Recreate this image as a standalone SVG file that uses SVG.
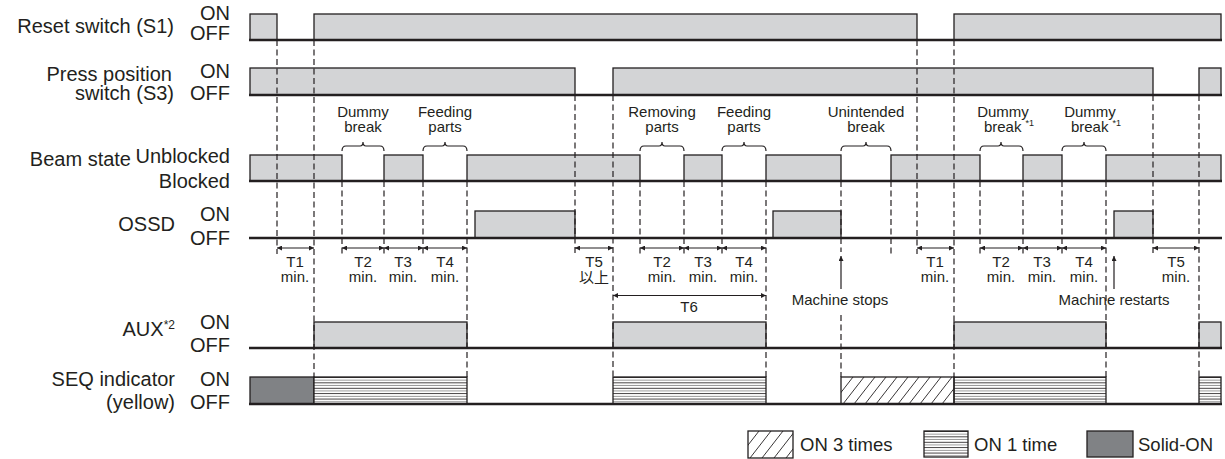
<svg xmlns="http://www.w3.org/2000/svg" width="1225" height="459" viewBox="0 0 1225 459">
<style>
.bg{fill:#fff}
.sig{fill:#d3d4d6;stroke:#231f20;stroke-width:1.3}
.solid{fill:#808285;stroke:#231f20;stroke-width:1.3}
.lin{fill:url(#hl);stroke:#231f20;stroke-width:1.3}
.box{fill:none;stroke:#231f20;stroke-width:1.3}
.base{stroke:#231f20;stroke-width:2.6;fill:none}
.dash{stroke:#231f20;stroke-width:1.2;stroke-dasharray:6 3.5;fill:none}
.dim{stroke:#231f20;stroke-width:1.2;fill:none;marker-start:url(#ah);marker-end:url(#ah)}
.up{stroke:#231f20;stroke-width:1.2;fill:none;marker-end:url(#ah)}
.brace{stroke:#231f20;stroke-width:1.2;fill:none}
.hat{stroke:#231f20;stroke-width:0.9}
text{font-family:"Liberation Sans","Noto Sans CJK JP",Arial,sans-serif;fill:#231f20}
.big{font-size:20px}
.sm{font-size:15px;text-anchor:middle}
.lg{font-size:18.5px}
.r{text-anchor:end}
</style>
<defs>
<marker id="ah" viewBox="0 0 10 10" refX="10" refY="5" markerWidth="6" markerHeight="5" markerUnits="userSpaceOnUse" orient="auto-start-reverse">
<path d="M0,0 L10,5 L0,10 z" fill="#231f20"/>
</marker>
<pattern id="hl" patternUnits="userSpaceOnUse" x="0" y="377" width="20" height="5.4">
<rect width="20" height="5.4" fill="#fff"/>
<line x1="0" y1="0.45" x2="20" y2="0.45" stroke="#231f20" stroke-width="0.9"/>
<line x1="0" y1="3.1" x2="20" y2="3.1" stroke="#666" stroke-width="0.7"/>
</pattern>
<clipPath id="c1"><rect x="841" y="377" width="113" height="27"/></clipPath>
<clipPath id="c2"><rect x="748" y="431" width="45" height="27"/></clipPath>
</defs>
<rect class="bg" width="1225" height="459"/>

<g id="labels">
<text class="big r" x="174" y="33">Reset switch (S1)</text>
<text class="big r" x="230" y="20">ON</text>
<text class="big r" x="230" y="40">OFF</text>
<text class="big r" x="172" y="80.5">Press position</text>
<text class="big r" x="174" y="100">switch (S3)</text>
<text class="big r" x="230" y="78">ON</text>
<text class="big r" x="230" y="100">OFF</text>
<text class="big r" x="131" y="166">Beam state</text>
<text class="big r" x="230" y="163">Unblocked</text>
<text class="big r" x="230" y="188">Blocked</text>
<text class="big r" x="175" y="231">OSSD</text>
<text class="big r" x="230" y="221">ON</text>
<text class="big r" x="230" y="245">OFF</text>
<text class="big r" x="175" y="336">AUX<tspan font-size="12" dy="-7">*2</tspan></text>
<text class="big r" x="230" y="329">ON</text>
<text class="big r" x="230" y="352">OFF</text>
<text class="big r" x="175" y="386">SEQ indicator</text>
<text class="big r" x="175" y="409">(yellow)</text>
<text class="big r" x="230" y="386">ON</text>
<text class="big r" x="230" y="409">OFF</text>
</g>

<g id="reset-switch">
<rect class="sig" x="250" y="14" width="27" height="26"/>
<rect class="sig" x="314" y="14" width="603" height="26"/>
<rect class="sig" x="954" y="14" width="267" height="26"/>
<line class="base" x1="249" y1="40" x2="1222" y2="40"/>
</g>

<g id="press-switch">
<rect class="sig" x="250" y="68" width="325" height="27"/>
<rect class="sig" x="613" y="68" width="540" height="27"/>
<rect class="sig" x="1199" y="68" width="22" height="27"/>
<line class="base" x1="249" y1="95" x2="1222" y2="95"/>
</g>

<g id="beam-state">
<rect class="sig" x="250" y="155" width="92" height="26"/>
<rect class="sig" x="384" y="155" width="39" height="26"/>
<rect class="sig" x="467" y="155" width="173" height="26"/>
<rect class="sig" x="684" y="155" width="38" height="26"/>
<rect class="sig" x="766" y="155" width="75" height="26"/>
<rect class="sig" x="891" y="155" width="89" height="26"/>
<rect class="sig" x="1023" y="155" width="39" height="26"/>
<rect class="sig" x="1106" y="155" width="115" height="26"/>
<line class="base" x1="249" y1="181" x2="1222" y2="181"/>
</g>

<g id="ossd">
<rect class="sig" x="475" y="211" width="100" height="27"/>
<rect class="sig" x="773" y="211" width="68" height="27"/>
<rect class="sig" x="1114" y="211" width="39" height="27"/>
<line class="base" x1="249" y1="238" x2="1222" y2="238"/>
</g>

<g id="aux">
<rect class="sig" x="314" y="322" width="153" height="26"/>
<rect class="sig" x="613" y="322" width="153" height="26"/>
<rect class="sig" x="954" y="322" width="152" height="26"/>
<rect class="sig" x="1199" y="322" width="22" height="26"/>
<line class="base" x1="249" y1="348" x2="1222" y2="348"/>
</g>

<g id="seq-indicator">
<rect class="solid" x="250" y="377" width="64" height="27"/>
<rect class="lin" x="314" y="377" width="153" height="27"/>
<rect class="lin" x="613" y="377" width="153" height="27"/>
<rect class="lin" x="954" y="377" width="152" height="27"/>
<rect class="lin" x="1199" y="377" width="22" height="27"/>
<g clip-path="url(#c1)">
<line class="hat" x1="832" y1="404" x2="853" y2="377"/>
<line class="hat" x1="843" y1="404" x2="864" y2="377"/>
<line class="hat" x1="854" y1="404" x2="875" y2="377"/>
<line class="hat" x1="865" y1="404" x2="886" y2="377"/>
<line class="hat" x1="876" y1="404" x2="897" y2="377"/>
<line class="hat" x1="887" y1="404" x2="908" y2="377"/>
<line class="hat" x1="898" y1="404" x2="919" y2="377"/>
<line class="hat" x1="909" y1="404" x2="930" y2="377"/>
<line class="hat" x1="920" y1="404" x2="941" y2="377"/>
<line class="hat" x1="931" y1="404" x2="952" y2="377"/>
<line class="hat" x1="942" y1="404" x2="963" y2="377"/>
</g>
<rect class="box" x="841" y="377" width="113" height="27"/>
<line class="base" x1="249" y1="404" x2="1222" y2="404"/>
</g>

<g id="connectors">
<line class="dash" x1="277" y1="40" x2="277" y2="254"/>
<line class="dash" x1="314" y1="40" x2="314" y2="377"/>
<line class="dash" x1="342" y1="181" x2="342" y2="254"/>
<line class="dash" x1="384" y1="181" x2="384" y2="254"/>
<line class="dash" x1="423" y1="181" x2="423" y2="254"/>
<line class="dash" x1="467" y1="181" x2="467" y2="377"/>
<line class="dash" x1="575" y1="95" x2="575" y2="254"/>
<line class="dash" x1="613" y1="95" x2="613" y2="377"/>
<line class="dash" x1="640" y1="181" x2="640" y2="254"/>
<line class="dash" x1="684" y1="181" x2="684" y2="254"/>
<line class="dash" x1="722" y1="181" x2="722" y2="254"/>
<line class="dash" x1="766" y1="181" x2="766" y2="377"/>
<line class="dash" x1="841" y1="181" x2="841" y2="252"/>
<line class="dash" x1="841" y1="315" x2="841" y2="377"/>
<line class="dash" x1="891" y1="181" x2="891" y2="254"/>
<line class="dash" x1="917" y1="40" x2="917" y2="254"/>
<line class="dash" x1="954" y1="40" x2="954" y2="377"/>
<line class="dash" x1="980" y1="181" x2="980" y2="254"/>
<line class="dash" x1="1023" y1="181" x2="1023" y2="254"/>
<line class="dash" x1="1062" y1="181" x2="1062" y2="254"/>
<line class="dash" x1="1106" y1="181" x2="1106" y2="377"/>
<line class="dash" x1="1153" y1="95" x2="1153" y2="254"/>
<line class="dash" x1="1199" y1="95" x2="1199" y2="377"/>

<path class="brace" d="M342,151 Q342,146 346,146 L360,146 Q363,146 363,142 Q363,146 366,146 L380,146 Q384,146 384,151"/>
<path class="brace" d="M423,151 Q423,146 427,146 L442,146 Q445,146 445,142 Q445,146 448,146 L463,146 Q467,146 467,151"/>
<path class="brace" d="M640,151 Q640,146 644,146 L659,146 Q662,146 662,142 Q662,146 665,146 L680,146 Q684,146 684,151"/>
<path class="brace" d="M722,151 Q722,146 726,146 L741,146 Q744,146 744,142 Q744,146 747,146 L762,146 Q766,146 766,151"/>
<path class="brace" d="M841,151 Q841,146 845,146 L863,146 Q866,146 866,142 Q866,146 869,146 L887,146 Q891,146 891,151"/>
<path class="brace" d="M980,151 Q980,146 984,146 L998,146 Q1001,146 1001,142 Q1001,146 1004,146 L1019,146 Q1023,146 1023,151"/>
<path class="brace" d="M1062,151 Q1062,146 1066,146 L1081,146 Q1084,146 1084,142 Q1084,146 1087,146 L1102,146 Q1106,146 1106,151"/>

<line class="dim" x1="277" y1="248" x2="314" y2="248"/>
<line class="dim" x1="342" y1="248" x2="384" y2="248"/>
<line class="dim" x1="384" y1="248" x2="423" y2="248"/>
<line class="dim" x1="423" y1="248" x2="467" y2="248"/>
<line class="dim" x1="575" y1="248" x2="613" y2="248"/>
<line class="dim" x1="640" y1="248" x2="684" y2="248"/>
<line class="dim" x1="684" y1="248" x2="722" y2="248"/>
<line class="dim" x1="722" y1="248" x2="766" y2="248"/>
<line class="dim" x1="917" y1="248" x2="954" y2="248"/>
<line class="dim" x1="980" y1="248" x2="1023" y2="248"/>
<line class="dim" x1="1023" y1="248" x2="1062" y2="248"/>
<line class="dim" x1="1062" y1="248" x2="1106" y2="248"/>
<line class="dim" x1="1153" y1="248" x2="1199" y2="248"/>
<line class="dim" x1="613" y1="295.5" x2="766" y2="295.5"/>

<line class="up" x1="841" y1="289" x2="841" y2="256"/>
<line class="up" x1="1114" y1="289" x2="1114" y2="256"/>
</g>

<g id="annotations">
<text class="sm"><tspan x="363" y="117">Dummy</tspan><tspan x="363" y="132">break</tspan></text>
<text class="sm"><tspan x="445" y="117">Feeding</tspan><tspan x="445" y="132">parts</tspan></text>
<text class="sm"><tspan x="662" y="117">Removing</tspan><tspan x="662" y="132">parts</tspan></text>
<text class="sm"><tspan x="744" y="117">Feeding</tspan><tspan x="744" y="132">parts</tspan></text>
<text class="sm"><tspan x="866" y="117">Unintended</tspan><tspan x="866" y="132">break</tspan></text>
<text class="sm"><tspan x="1003" y="117">Dummy</tspan><tspan x="1009" y="132">break <tspan font-size="9" dy="-6">*1</tspan></tspan></text>
<text class="sm"><tspan x="1090" y="117">Dummy</tspan><tspan x="1096" y="132">break <tspan font-size="9" dy="-6">*1</tspan></tspan></text>

<text class="sm"><tspan x="295" y="267">T1</tspan><tspan x="295" y="282">min.</tspan></text>
<text class="sm"><tspan x="363" y="267">T2</tspan><tspan x="363" y="282">min.</tspan></text>
<text class="sm"><tspan x="403" y="267">T3</tspan><tspan x="403" y="282">min.</tspan></text>
<text class="sm"><tspan x="445" y="267">T4</tspan><tspan x="445" y="282">min.</tspan></text>
<text class="sm"><tspan x="594" y="267">T5</tspan><tspan x="594" y="283">以上</tspan></text>
<text class="sm"><tspan x="662" y="267">T2</tspan><tspan x="662" y="282">min.</tspan></text>
<text class="sm"><tspan x="703" y="267">T3</tspan><tspan x="703" y="282">min.</tspan></text>
<text class="sm"><tspan x="744" y="267">T4</tspan><tspan x="744" y="282">min.</tspan></text>
<text class="sm" x="689" y="312">T6</text>
<text class="sm"><tspan x="935" y="267">T1</tspan><tspan x="935" y="282">min.</tspan></text>
<text class="sm"><tspan x="1001" y="267">T2</tspan><tspan x="1001" y="282">min.</tspan></text>
<text class="sm"><tspan x="1042" y="267">T3</tspan><tspan x="1042" y="282">min.</tspan></text>
<text class="sm"><tspan x="1084" y="267">T4</tspan><tspan x="1084" y="282">min.</tspan></text>
<text class="sm"><tspan x="1176" y="267">T5</tspan><tspan x="1176" y="282">min.</tspan></text>
<text class="sm" x="840" y="305">Machine stops</text>
<text class="sm" x="1114" y="305">Machine restarts</text>
</g>

<g id="legend">
<g clip-path="url(#c2)">
<line class="hat" x1="738" y1="458" x2="759" y2="431"/>
<line class="hat" x1="750" y1="458" x2="771" y2="431"/>
<line class="hat" x1="762" y1="458" x2="783" y2="431"/>
<line class="hat" x1="774" y1="458" x2="795" y2="431"/>
<line class="hat" x1="786" y1="458" x2="807" y2="431"/>
</g>
<rect class="box" x="748" y="431" width="45" height="27"/>
<text class="lg" x="800" y="451">ON 3 times</text>
<rect class="lin" x="924" y="431" width="44" height="26"/>
<text class="lg" x="974" y="451">ON 1 time</text>
<rect class="solid" x="1087" y="431" width="46" height="26"/>
<text class="lg" x="1138" y="451">Solid-ON</text>
</g>
</svg>
